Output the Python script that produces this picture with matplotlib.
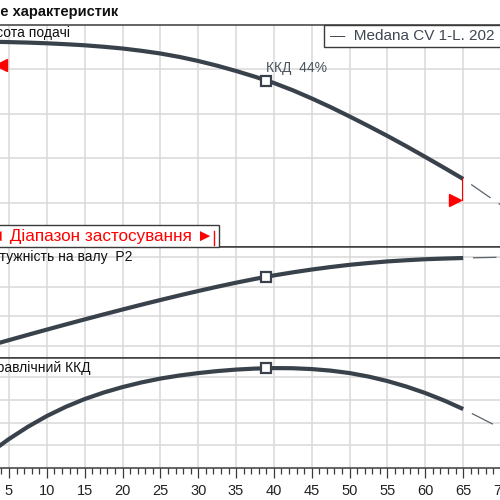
import matplotlib
matplotlib.use("Agg")
import matplotlib.pyplot as plt
from matplotlib.patches import Rectangle
import matplotlib.transforms as mtransforms

plt.rcParams['font.family'] = ['Liberation Sans', 'DejaVu Sans']
plt.rcParams['lines.scale_dashes'] = False

# ---- data ----
q = [0, 2.5, 5, 7.5, 10, 12.5, 15, 17.5, 20, 22.5, 25, 27.5, 30, 32.5, 35,
     37.5, 40, 42.5, 45, 47.5, 50, 52.5, 55, 57.5, 60, 62.5, 65]
head = [19.263, 19.249, 19.231, 19.209, 19.178, 19.137, 19.088, 19.022,
        18.944, 18.840, 18.719, 18.566, 18.382, 18.171, 17.933, 17.674,
        17.393, 17.065, 16.697, 16.306, 15.888, 15.456, 15.011, 14.548,
        14.067, 13.578, 13.079]
power = [0.2838, 0.3019, 0.3199, 0.3378, 0.3554, 0.3728, 0.3899, 0.4068,
         0.4233, 0.4396, 0.4554, 0.4709, 0.4858, 0.5002, 0.5139, 0.5267,
         0.5385, 0.5489, 0.5584, 0.5668, 0.5743, 0.5804, 0.5858, 0.5898,
         0.5932, 0.5954, 0.5973]
eff = [0.0, 6.72, 12.78, 18.17, 22.91, 26.96, 30.40, 33.26, 35.68, 37.73,
       39.43, 40.77, 41.85, 42.73, 43.39, 43.83, 44.05, 43.99, 43.61, 42.93,
       41.85, 40.31, 38.33, 35.90, 33.04, 29.74, 25.99]

q_ext = [65, 70, 75]
head_ext = [13.079, 11.9, 10.6]
power_ext = [0.5973, 0.600, 0.602]
eff_ext = [25.99, 17.5, 8.0]

q_bep = 39
head_bep = 17.49
power_bep = 0.5334
eff_bep = 44.0

q_range = [3.15, 64.8]
range_marker_head = [18.2, 12.13]
head_range_end = [19.24, 13.12]

xticks = [0, 5, 10, 15, 20, 25, 30, 35, 40, 45, 50, 55, 60, 65, 70, 75]
head_grid = [12, 14, 16, 18]
power_grid = [0.3, 0.4, 0.5, 0.6]
eff_grid = [10, 20, 30, 40]

title = "Поле характеристик"
label_head = "Висота подачі"
label_power = "Потужність на валу  P2"
label_eff = "Гідравлічний ККД"
legend_text = "—  Medana CV 1-L. 202"
bep_text = "ККД  44%"
range_text = "◄ Діапазон застосування ►"

# ---- style ----
W = H = 500
line_c = "#39424b"
grid_c = "#d9d9d9"
spine_c = "#3a3a3a"
red = "#ff0000"

fig = plt.figure(figsize=(5, 5), dpi=100)

def fx(px):
    return px / W

def fy(py):
    return 1 - py / H

x_left_px = -28.9
x_right_px = 9 + 70 * 7.57
ax_left = fx(x_left_px)
ax_width = fx(x_right_px) - ax_left

def make_ax(top_px, bot_px):
    ax = fig.add_axes([ax_left, fy(bot_px), ax_width, (bot_px - top_px) / H])
    ax.set_xlim(0, 75)
    ax.set_xticks(xticks)
    ax.grid(True, color=grid_c, lw=1.1)
    ax.set_axisbelow(True)
    for s in ax.spines.values():
        s.set_color(spine_c)
        s.set_linewidth(1.1)
    return ax

ax1 = make_ax(25, 247)
ax2 = make_ax(247, 358)
ax3 = make_ax(358, 468)

ax1.set_ylim(10.02, 20.0)
ax1.set_yticks(head_grid)
ax2.set_ylim(0.2595, 0.6345)
ax2.set_yticks(power_grid)
ax3.set_ylim(0, 48.5)
ax3.set_yticks(eff_grid)

for ax in (ax1, ax2):
    ax.tick_params(axis='both', length=0, labelbottom=False, labelleft=False)
ax3.tick_params(axis='y', length=0, labelleft=False)
ax3.set_xticks(range(0, 76), minor=True)
ax3.tick_params(axis='x', which='major', direction='out', length=7.2, width=0.9,
                color=spine_c, labelsize=10.5, labelcolor="#222222", pad=4)
ax3.tick_params(axis='x', which='minor', direction='out', length=4.6, width=0.9,
                color=spine_c)
ax3.set_xticklabels([str(v) for v in xticks])

ext_style = dict(color="#5a626b", lw=0.9, linestyle=(17, (17, 7)))
main_style = dict(color=line_c, lw=3, solid_capstyle='butt', solid_joinstyle='round')
mk_style = dict(marker='s', markersize=6.5, markerfacecolor='white',
                markeredgecolor=line_c, markeredgewidth=1.6, linestyle='none', zorder=5)

# head
ax1.plot(q, head, **main_style)
ax1.plot(q_ext, head_ext, **ext_style)
ax1.plot([q_bep], [head_bep], **mk_style)
ax1.annotate(bep_text, (q_bep, head_bep), xytext=(0, 4), textcoords='offset points',
             ha='left', va='bottom', fontsize=10, color="#4a545e")

# range markers
for qi, hm, hc, mk, sgn in zip(q_range, range_marker_head, head_range_end, ['<', '>'], [1, -1]):
    tr = mtransforms.offset_copy(ax1.transData, fig=fig, x=sgn * 4.5, y=0, units='points')
    ax1.plot([qi], [hm], marker=mk, markersize=9, color=red, linestyle='none',
             transform=tr, zorder=6)
    ax1.plot([qi, qi], [hc, hm], color=red, lw=0.8, zorder=4)

# power
ax2.plot(q, power, **main_style)
ax2.plot(q_ext, power_ext, **ext_style)
ax2.plot([q_bep], [power_bep], **mk_style)

# efficiency
ax3.plot(q, eff, **main_style)
ax3.plot(q_ext, eff_ext, **ext_style)
ax3.plot([q_bep], [eff_bep], **mk_style)

# panel labels
lab_kw = dict(ha='right', va='center', fontsize=10, color="#111111")
fig.text(fx(70), fy(33), label_head, **lab_kw)
fig.text(fx(132), fy(257), label_power, **lab_kw)
fig.text(fx(91), fy(368), label_eff, **lab_kw)

# title
fig.text(fx(118), fy(12), title, ha='right', va='center', fontsize=10.5,
         fontweight='bold', color="#111111")

# legend box
fig.add_artist(Rectangle((fx(324), fy(46.7)), fx(600) - fx(324), (46.7 - 25) / H,
                         transform=fig.transFigure, facecolor='white',
                         edgecolor=spine_c, lw=1.0, zorder=3))
fig.text(fx(330), fy(36), legend_text, ha='left', va='center', fontsize=11,
         color="#3f4852", zorder=4)

# range box
fig.add_artist(Rectangle((fx(-5), fy(247)), fx(219) - fx(-5), (247 - 225) / H,
                         transform=fig.transFigure, facecolor='white',
                         edgecolor=spine_c, lw=1.0, zorder=3))
fig.text(fx(213.5), fy(236.5), range_text, ha='right', va='center', fontsize=12.3,
         color=red, zorder=4)
fig.add_artist(plt.Line2D([fx(214), fx(214)], [fy(245), fy(231)],
                          transform=fig.transFigure, color=red, lw=1.0, zorder=4))

fig.savefig("out.png", dpi=100)
